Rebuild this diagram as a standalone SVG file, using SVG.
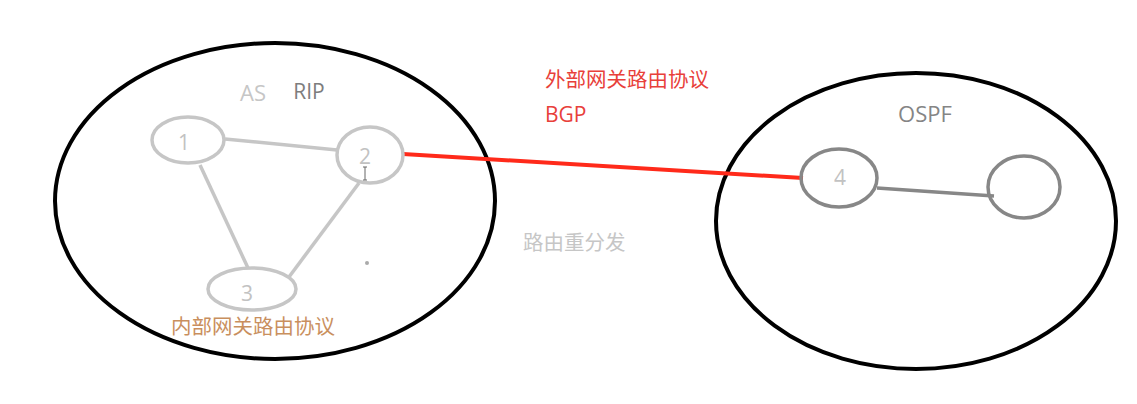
<svg xmlns="http://www.w3.org/2000/svg" width="1137" height="404" viewBox="0 0 1137 404">
<style>
.as{fill:none;stroke:#000;stroke-width:4}
.n1{fill:none;stroke:#c6c6c6;stroke-width:3.5}
.n2{fill:none;stroke:#878787;stroke-width:3.5}
.t{font-family:"Open Sans","Noto Sans","Noto Sans CJK SC",sans-serif;font-size:21px;text-anchor:middle;dominant-baseline:central}
.cn{font-family:"Noto Sans CJK SC","Noto Sans",sans-serif;font-size:20.5px;dominant-baseline:central}
.num{fill:#c2c2c2}
.e1{stroke:#c6c6c6;stroke-width:3.5;fill:none}
.e2{stroke:#878787;stroke-width:3.5;fill:none}
</style>
<rect width="1137" height="404" fill="#fff"/>
<g id="as-left"><ellipse class="as" cx="275" cy="201" rx="220" ry="158"/></g>
<g id="as-right"><ellipse class="as" cx="916" cy="221" rx="200" ry="148"/></g>
<g id="connectors">
<line class="e1" x1="225" y1="139" x2="337" y2="150"/>
<line class="e1" x1="200" y1="165" x2="248" y2="268"/>
<line class="e1" x1="359" y1="183" x2="289" y2="277"/>
<line class="e2" x1="877" y1="188" x2="994" y2="196"/>
<line stroke="#ff2a1a" stroke-width="4" x1="403" y1="154" x2="803" y2="178"/>
</g>
<g id="node1"><ellipse class="n1" cx="188" cy="140" rx="36" ry="23"/><text class="t num" x="184" y="142">1</text></g>
<g id="node2"><ellipse class="n1" cx="370" cy="155" rx="33" ry="28"/><text class="t num" x="365" y="156">2</text></g>
<g id="node3"><ellipse class="n1" cx="252" cy="289" rx="44" ry="21"/><text class="t num" x="247" y="293">3</text></g>
<g id="node4"><ellipse class="n2" cx="839" cy="178" rx="38" ry="29"/><text class="t num" x="840" y="177">4</text></g>
<g id="node5"><ellipse class="n2" cx="1024" cy="187" rx="36" ry="31"/></g>
<g id="labels">
<text class="t" x="253" y="92" fill="#c6c6c6" style="font-size:22px">AS</text>
<text class="t" x="309" y="91" fill="#7d7d7d">RIP</text>
<text class="t" x="925" y="113" fill="#858585" style="font-size:22px">OSPF</text>
<text class="cn" x="545" y="78" fill="#e8403a">外部网关路由协议</text>
<text class="t" x="545" y="114" fill="#e8403a" style="text-anchor:start">BGP</text>
<text class="cn" x="523" y="241" fill="#c6c6c6">路由重分发</text>
<text class="cn" x="171" y="325" fill="#c98f5e">内部网关路由协议</text>
</g>
<circle cx="367" cy="263" r="2" fill="#aaa"/>
<path d="M363 167h4M365 167v13M363 180h4" stroke="#666" stroke-width="1" fill="none"/>
</svg>
